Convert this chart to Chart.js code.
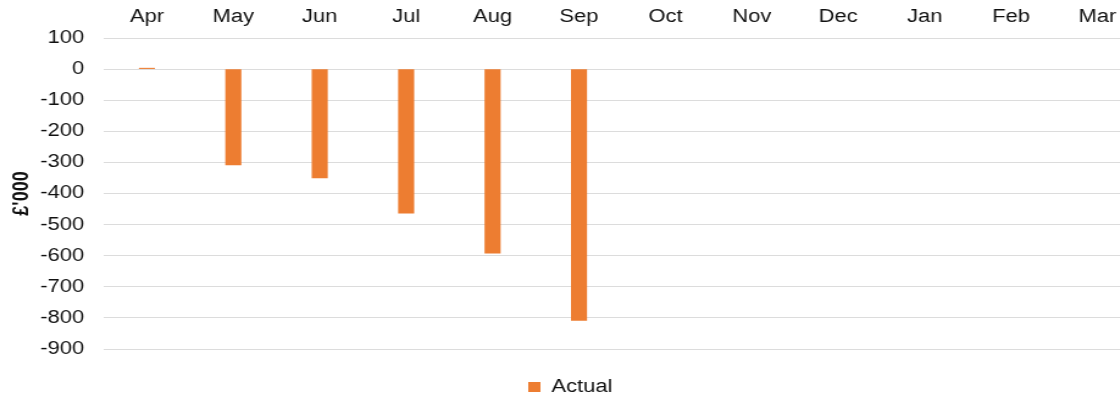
<!DOCTYPE html>
<html>
<head>
<meta charset="utf-8">
<script src="https://cdn.jsdelivr.net/npm/chart.js@4/dist/chart.umd.min.js"></script>
<style>
  html, body { margin: 0; padding: 0; background: #fff; overflow: hidden; }
  #wrap { width: 1120px; height: 398px; overflow: hidden; }
  /* the chart is drawn a bit narrow and widened to fit the page */
  #chart { display: block; transform: scaleX(1.22); transform-origin: 0 0; }
</style>
</head>
<body>
<div id="wrap">
  <canvas id="chart" width="935" height="398"></canvas>
</div>
<script>
const months = ["Apr", "May", "Jun", "Jul", "Aug", "Sep", "Oct", "Nov", "Dec", "Jan", "Feb", "Mar"];
const actual = [3, -308, -350, -463, -592, -808, null, null, null, null, null, null];
const yTitle = "£'000";
const seriesName = "Actual";

const font = "'Liberation Sans', Arial, sans-serif";
const ink = "#111";

new Chart(document.getElementById("chart"), {
  type: "bar",
  data: {
    labels: months,
    datasets: [{
      label: seriesName,
      data: actual,
      backgroundColor: "#ED7D31",
      borderWidth: 0,
      barThickness: 12.5
    }]
  },
  options: {
    responsive: false,
    animation: false,
    layout: { padding: 0 },
    plugins: {
      tooltip: { enabled: false },
      legend: {
        position: "bottom",
        maxHeight: 49,
        labels: {
          boxWidth: 10,
          boxHeight: 10,
          padding: 29,
          color: ink,
          font: { family: font, size: 18 }
        }
      }
    },
    scales: {
      x: {
        position: "top",
        grid: { display: false, drawTicks: false },
        border: { display: false },
        ticks: {
          color: ink,
          padding: 10,
          font: { family: font, size: 18 },
          maxRotation: 0
        },
        afterFit(scale) { scale.height = 38; }
      },
      y: {
        min: -900,
        max: 100,
        grid: { color: "#dcdcdc", lineWidth: 1, drawTicks: false },
        border: { display: false },
        ticks: {
          stepSize: 100,
          color: ink,
          padding: 16,
          font: { family: font, size: 18 }
        },
        title: {
          display: true,
          text: yTitle,
          color: ink,
          padding: { top: 7.5, bottom: 0 },
          font: { family: font, size: 18, weight: "bold" }
        },
        afterFit(scale) { scale.width = 85; }
      }
    }
  }
});
</script>
</body>
</html>
